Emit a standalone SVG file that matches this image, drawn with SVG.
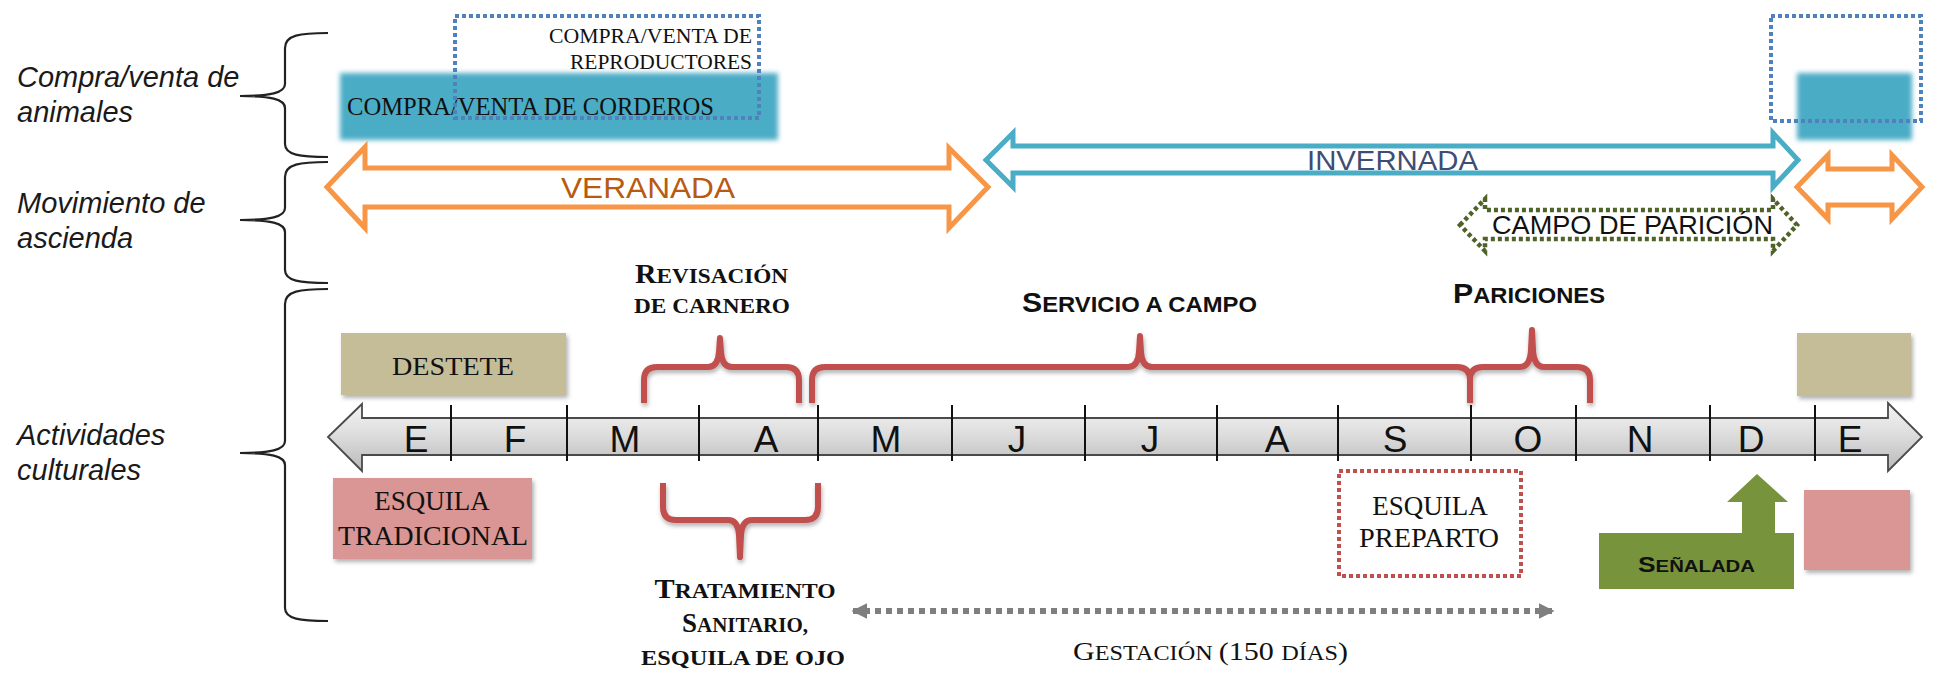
<svg xmlns="http://www.w3.org/2000/svg" width="1943" height="678" viewBox="0 0 1943 678">
<defs>
<style>
.lbl{font-family:"Liberation Sans",Arial,sans-serif;font-style:italic;font-size:29px;fill:#1a1a1a}
.brk{fill:none;stroke:#222;stroke-width:2.2}
.red{fill:none;stroke:#c0504d;stroke-width:6;stroke-linejoin:round;stroke-linecap:butt}
.serif{font-family:"Liberation Serif","Times New Roman",serif;fill:#111}
.sans{font-family:"Liberation Sans",Arial,sans-serif;fill:#111}
.mon{font-family:"Liberation Sans",Arial,sans-serif;font-size:37px;fill:#111;text-anchor:middle}
.div{stroke:#111;stroke-width:2}
.b{font-weight:bold}
</style>
<linearGradient id="gTL" x1="0" y1="0" x2="0" y2="1">
<stop offset="0" stop-color="#f4f4f4"/>
<stop offset="0.45" stop-color="#dedede"/>
<stop offset="1" stop-color="#b9b9b9"/>
</linearGradient>
<filter id="blur" x="-10%" y="-20%" width="120%" height="140%"><feGaussianBlur stdDeviation="2.5"/></filter>
<filter id="sh" x="-10%" y="-10%" width="125%" height="130%"><feDropShadow dx="2" dy="3" stdDeviation="2" flood-color="#000" flood-opacity="0.3"/></filter>
<filter id="shr" x="-10%" y="-20%" width="120%" height="150%"><feDropShadow dx="1" dy="3" stdDeviation="2" flood-color="#000" flood-opacity="0.3"/></filter>
<marker id="ah" viewBox="0 0 10 10" refX="9" refY="5" markerWidth="2.6" markerHeight="3.2" orient="auto-start-reverse" markerUnits="strokeWidth"><path d="M0,0 L10,5 L0,10 Z" fill="#7f7f7f"/></marker>
</defs>
<rect width="1943" height="678" fill="#fff"/>

<g id="left-labels">
<text class="lbl" x="17" y="87">Compra/venta de</text>
<text class="lbl" x="17" y="122">animales</text>
<text class="lbl" x="17" y="213">Movimiento de</text>
<text class="lbl" x="17" y="248">ascienda</text>
<text class="lbl" x="17" y="445">Actividades</text>
<text class="lbl" x="17" y="480">culturales</text>
</g>

<g id="left-braces">
<path class="brk" d="M328,33 C300,33 285,35 285,48 V84 C285,93 270,96 240,96 C270,96 285,99 285,108 V144 C285,155 300,157 328,157"/>
<path class="brk" d="M328,162 C300,162 285,164 285,177 V208 C285,217 270,220 240,220 C270,220 285,223 285,232 V270 C285,281 300,283 328,283"/>
<path class="brk" d="M328,289 C300,289 285,291 285,304 V441 C285,450 270,453 240,453 C270,453 285,456 285,465 V608 C285,619 300,621 328,621"/>
</g>

<g id="compra-corderos">
<rect x="340" y="73" width="438" height="67" fill="#4bacc6" filter="url(#blur)"/>
<text class="serif" x="347" y="115" font-size="24.5" textLength="367" lengthAdjust="spacingAndGlyphs">COMPRA/VENTA DE CORDEROS</text>
</g>
<g id="compra-corderos-dic">
<rect x="1797" y="73" width="115" height="67" fill="#4bacc6" filter="url(#blur)"/>
</g>
<g id="compra-reproductores">
<rect x="455" y="16" width="304" height="102" fill="none" stroke="#4f81bd" stroke-width="4" stroke-dasharray="4 3"/>
<text class="serif" x="752" y="43" font-size="20" text-anchor="end" textLength="203" lengthAdjust="spacingAndGlyphs">COMPRA/VENTA DE</text>
<text class="serif" x="752" y="69" font-size="20.5" text-anchor="end" textLength="182" lengthAdjust="spacingAndGlyphs">REPRODUCTORES</text>
</g>
<g id="compra-reproductores-dic">
<rect x="1771" y="16" width="150" height="105" fill="none" stroke="#4f81bd" stroke-width="4" stroke-dasharray="4 3"/>
</g>

<g id="veranada">
<polygon points="327,187 365,147 365,168 949,168 949,148 988,187 949,228 949,207 365,207 365,228" fill="#fff" stroke="#f79646" stroke-width="5" stroke-linejoin="miter"/>
<text class="sans" x="561" y="198" font-size="30" style="fill:#b85a10" textLength="174" lengthAdjust="spacingAndGlyphs">VERANADA</text>
</g>
<g id="invernada">
<polygon points="986,160 1013,133 1013,146 1773,146 1773,133 1798,160 1773,187 1773,173 1013,173 1013,187" fill="#fff" stroke="#4bacc6" stroke-width="5"/>
<text class="sans" x="1307" y="170" font-size="28" style="fill:#3e4d72" textLength="171" lengthAdjust="spacingAndGlyphs">INVERNADA</text>
</g>
<g id="veranada-dic">
<polygon points="1797,187 1828,155 1828,169 1892,169 1892,155 1922,187 1892,219 1892,205 1828,205 1828,219" fill="#fff" stroke="#f79646" stroke-width="5"/>
</g>
<g id="campo-paricion">
<polygon points="1460,225 1485,199 1485,210 1773,210 1773,199 1797,225 1773,251 1773,239 1485,239 1485,251" fill="#fff" stroke="#4f6228" stroke-width="4.5" stroke-dasharray="4 3"/>
<text class="sans" x="1492" y="234" font-size="25" textLength="281" lengthAdjust="spacingAndGlyphs">CAMPO DE PARICIÓN</text>
</g>

<g id="revisacion-label">
<text class="serif b" x="635" y="283" textLength="153" lengthAdjust="spacingAndGlyphs"><tspan font-size="27">R</tspan><tspan font-size="21">EVISACIÓN</tspan></text>
<text class="serif b" x="634" y="313" font-size="21" textLength="156" lengthAdjust="spacingAndGlyphs">DE CARNERO</text>
</g>
<g id="servicio-label">
<text class="sans b" x="1022" y="312" textLength="235" lengthAdjust="spacingAndGlyphs"><tspan font-size="28">S</tspan><tspan font-size="22">ERVICIO A CAMPO</tspan></text>
</g>
<g id="pariciones-label">
<text class="sans b" x="1453" y="303" textLength="152" lengthAdjust="spacingAndGlyphs"><tspan font-size="28">P</tspan><tspan font-size="22">ARICIONES</tspan></text>
</g>

<g id="red-braces" filter="url(#shr)">
<path class="red" d="M644,403 V380 Q644,367 657,367 H708 Q718,367 719,352 L720,338 L721,352 Q722,367 732,367 H786 Q799,367 799,380 V403"/>
<path class="red" d="M812,403 V380 Q812,367 825,367 H1128 Q1138,367 1139,352 L1140,336 L1141,352 Q1142,367 1152,367 H1457 Q1470,367 1470,380 V403"/>
<path class="red" d="M1470,403 V380 Q1470,367 1483,367 H1520 Q1530,367 1531,350 L1532,330 L1533,350 Q1534,367 1544,367 H1577 Q1590,367 1590,380 V403"/>
<path class="red" d="M663,483 V507 Q663,520 676,520 H728 Q738,520 739,535 L740,557 L741,535 Q742,520 752,520 H805 Q818,520 818,507 V483"/>
</g>

<g id="destete">
<rect x="341" y="333" width="225" height="62" fill="#c4bd97" filter="url(#sh)"/>
<text class="serif" x="453" y="375" font-size="26" text-anchor="middle" textLength="122" lengthAdjust="spacingAndGlyphs">DESTETE</text>
</g>
<g id="destete-dic">
<rect x="1797" y="333" width="114" height="63" fill="#c4bd97" filter="url(#sh)"/>
</g>

<g id="timeline">
<polygon points="328,437 362,404 362,418 1888,418 1888,403 1922,437 1888,471 1888,455 362,455 362,471" fill="url(#gTL)" stroke="#4a4a4a" stroke-width="1.8"/>
<g class="div">
<line x1="451" y1="405" x2="451" y2="461"/>
<line x1="567" y1="405" x2="567" y2="461"/>
<line x1="699" y1="405" x2="699" y2="461"/>
<line x1="818" y1="405" x2="818" y2="461"/>
<line x1="952" y1="405" x2="952" y2="461"/>
<line x1="1085" y1="405" x2="1085" y2="461"/>
<line x1="1217" y1="405" x2="1217" y2="461"/>
<line x1="1338" y1="405" x2="1338" y2="461"/>
<line x1="1471" y1="405" x2="1471" y2="461"/>
<line x1="1576" y1="405" x2="1576" y2="461"/>
<line x1="1710" y1="405" x2="1710" y2="461"/>
<line x1="1815" y1="405" x2="1815" y2="461"/>
</g>
<text class="mon" x="416" y="452">E</text>
<text class="mon" x="515" y="452">F</text>
<text class="mon" x="625" y="452">M</text>
<text class="mon" x="766" y="452">A</text>
<text class="mon" x="886" y="452">M</text>
<text class="mon" x="1017" y="452">J</text>
<text class="mon" x="1150" y="452">J</text>
<text class="mon" x="1277" y="452">A</text>
<text class="mon" x="1395" y="452">S</text>
<text class="mon" x="1528" y="452">O</text>
<text class="mon" x="1640" y="452">N</text>
<text class="mon" x="1751" y="452">D</text>
<text class="mon" x="1850" y="452">E</text>
</g>

<g id="esquila-tradicional">
<rect x="333" y="478" width="199" height="81" fill="#d99694" filter="url(#sh)"/>
<text class="serif" x="432" y="510" font-size="27" text-anchor="middle">ESQUILA</text>
<text class="serif" x="433" y="545" font-size="27" text-anchor="middle" textLength="190" lengthAdjust="spacingAndGlyphs">TRADICIONAL</text>
</g>
<g id="esquila-tradicional-dic">
<rect x="1804" y="490" width="106" height="80" fill="#d99694" filter="url(#sh)"/>
</g>

<g id="tratamiento-label">
<text class="serif b" x="745" y="598" text-anchor="middle" textLength="181" lengthAdjust="spacingAndGlyphs"><tspan font-size="27">T</tspan><tspan font-size="21">RATAMIENTO</tspan></text>
<text class="serif b" x="745" y="632" text-anchor="middle"><tspan font-size="27">S</tspan><tspan font-size="21">ANITARIO,</tspan></text>
<text class="serif b" x="743" y="665" font-size="21" text-anchor="middle" textLength="204" lengthAdjust="spacingAndGlyphs">ESQUILA DE OJO</text>
</g>

<g id="esquila-preparto">
<rect x="1339" y="471" width="182" height="105" fill="#fff" stroke="#c0504d" stroke-width="4" stroke-dasharray="4 3"/>
<text class="serif" x="1430" y="515" font-size="27" text-anchor="middle">ESQUILA</text>
<text class="serif" x="1429" y="547" font-size="27" text-anchor="middle" textLength="140" lengthAdjust="spacingAndGlyphs">PREPARTO</text>
</g>

<g id="senalada">
<path d="M1599,533 H1742 V502 H1727 L1757,474 L1788,502 H1775 V533 H1794 V589 H1599 Z" fill="#77933c"/>
<text class="sans b" x="1638" y="572" textLength="117" lengthAdjust="spacingAndGlyphs"><tspan font-size="22">S</tspan><tspan font-size="17">EÑALADA</tspan></text>
</g>

<g id="connectors">
<line x1="853" y1="611" x2="1553" y2="611" stroke="#7f7f7f" stroke-width="6" stroke-dasharray="6 5" marker-start="url(#ah)" marker-end="url(#ah)"/>
</g>
<g id="gestacion-label">
<text class="serif" x="1073" y="660" textLength="275" lengthAdjust="spacingAndGlyphs"><tspan font-size="26">G</tspan><tspan font-size="21">ESTACIÓN </tspan><tspan font-size="26">(150 </tspan><tspan font-size="21">DÍAS</tspan><tspan font-size="26">)</tspan></text>
</g>
</svg>
